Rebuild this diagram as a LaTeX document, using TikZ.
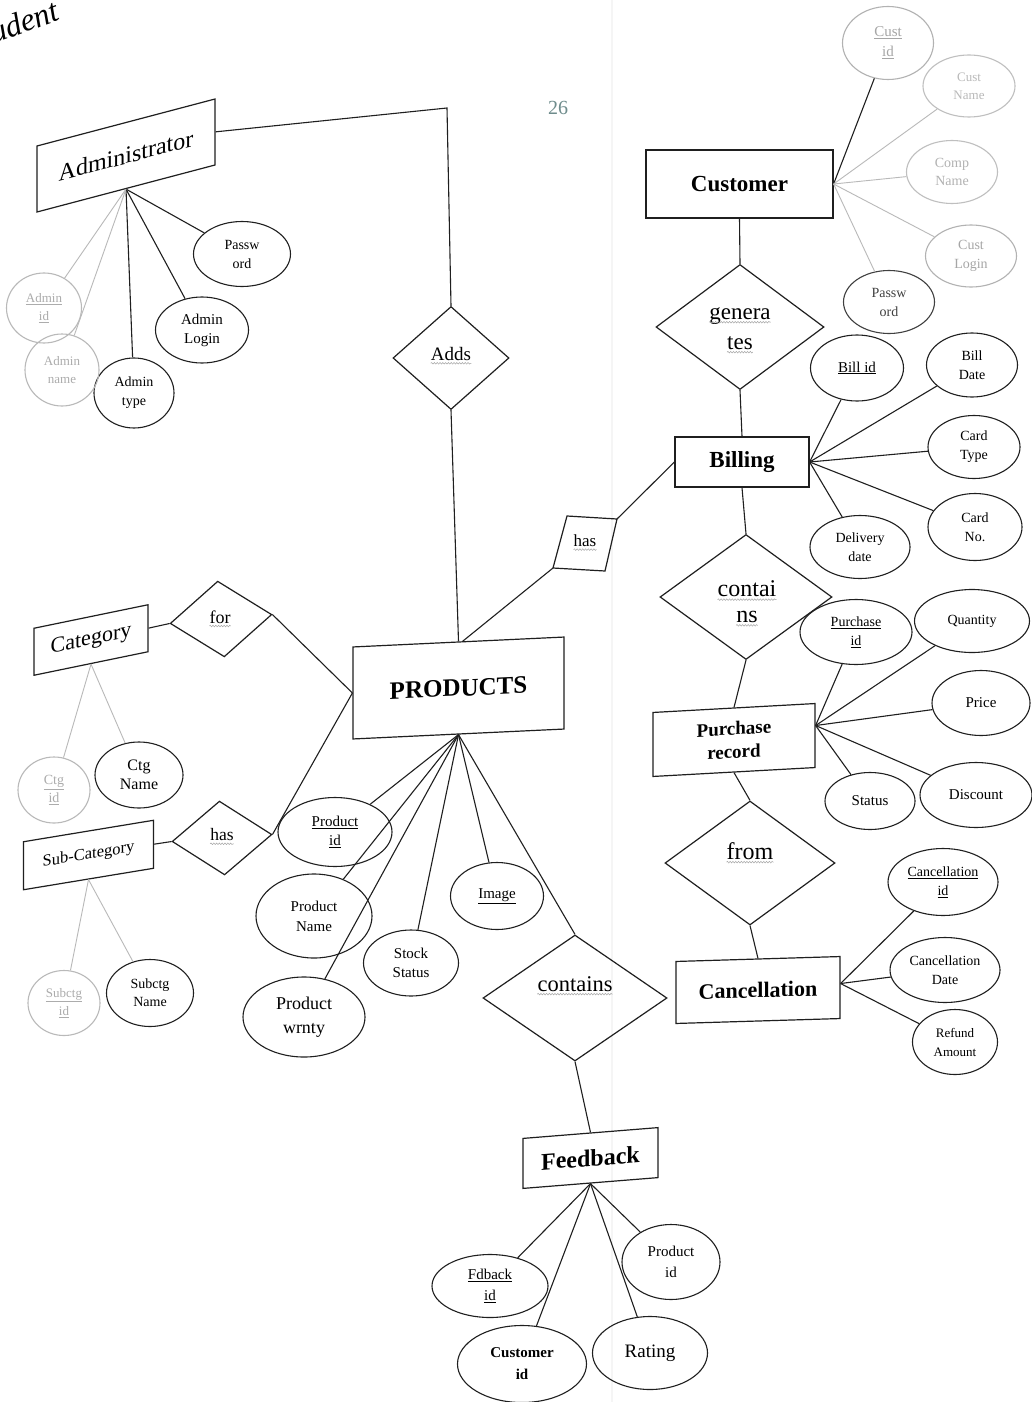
\documentclass[tikz,border=0pt]{standalone}
\usepackage{fontspec}
\setmainfont{Liberation Serif}
\usetikzlibrary{shapes.geometric,decorations.pathmorphing}
\definecolor{ink}{gray}{0.12}
\definecolor{pagenum}{RGB}{110,140,140}
\tikzset{
  fs/.style 2 args={font=\fontsize{#1}{#2}\selectfont},
  ent/.style={draw=ink, line width=1.2pt, rectangle, inner sep=0pt, align=center},
  rel/.style={draw=ink, line width=1.2pt, diamond, inner sep=0pt},
  attr/.style={draw=ink, line width=1.1pt, ellipse, inner sep=0pt, align=center},
  lbl/.style={inner sep=0pt},
  lnk/.style={draw=ink, line width=1.1pt},
  lnkfaint/.style={draw=gray!55, line width=0.9pt},
  faint/.style={draw=gray!55, text=gray!65},
  wave/.style={draw=gray!70, line width=0.5pt, decorate,
               decoration={snake, amplitude=0.8pt, segment length=2.8pt}},
  crease/.style={draw=gray!8, line width=2pt}
}
\newcommand\wv[1]{\draw[wave] ([yshift=-2.8pt]#1.base west) -- ([yshift=-2.8pt]#1.base east);}
\begin{document}
\begin{tikzpicture}[x=1pt,y=-1pt]
\fill[white] (0,0) rectangle (1032,1402);
\useasboundingbox (0,0) rectangle (1032,1402);
\draw[crease] (612,0) -- (612,1402);

% running header fragment and page number
\node[lbl, rotate=20, anchor=base west, font=\fontsize{32}{34}\selectfont\itshape] (hdr) at (-6,44) {udent};
\node[lbl, text=pagenum, fs={20}{22}] (pg) at (558,108) {26};

% ---------- entities ----------
\node[ent, minimum width=178, minimum height=66, yslant=0.264, fs={24}{28}] (admin) at (126,155.5) {Administrator};
\node[ent, minimum width=187, minimum height=68, font=\fontsize{23}{26}\selectfont\bfseries] (cust) at (739.5,184) {Customer};
\node[ent, minimum width=134, minimum height=50, font=\fontsize{23}{26}\selectfont\bfseries] (bill) at (742,462) {Billing};
\node[ent, minimum width=162, minimum height=64, yslant=0.055, font=\fontsize{19}{23}\selectfont\bfseries] (purch) at (734,740) {Purchase\\record};
\node[ent, minimum width=164, minimum height=62, yslant=0.03, font=\fontsize{22}{26}\selectfont\bfseries] (canc) at (758,990) {Cancellation};
\node[ent, minimum width=211, minimum height=92, yslant=0.047, font=\fontsize{25}{28}\selectfont\bfseries] (prod) at (458.5,688) {PRODUCTS};
\node[ent, minimum width=135, minimum height=50, yslant=0.08, font=\fontsize{24}{27}\selectfont\bfseries] (feed) at (590.5,1158) {Feedback};
\node[ent, minimum width=114, minimum height=47, yslant=0.206, fs={22}{25}] (cat) at (91,640) {Category};
\node[ent, minimum width=130, minimum height=48, yslant=0.165, fs={16.5}{19}] (subcat) at (88.5,855) {Sub-Category};

% ---------- relationships ----------
\node[rel, minimum width=116, minimum height=103] (adds) at (451,358) {};
\node[rel, minimum width=168, minimum height=125] (gen) at (740,327) {};
\node[rel, minimum width=172, minimum height=125] (cont) at (746,597) {};
\node[rel, minimum width=170, minimum height=124] (from) at (750,863) {};
\node[rel, minimum width=184, minimum height=126] (contL) at (575,998) {};
\node[rel, minimum width=102, minimum height=76, rotate=5] (forR) at (221,619) {};
\node[rel, minimum width=100, minimum height=74, rotate=4] (hasL) at (222,838) {};
% the small slanted "has" box between Billing and PRODUCTS
\coordinate (hasBtl) at (567,516);
\coordinate (hasBtr) at (617,519);
\coordinate (hasBbr) at (605,571);
\coordinate (hasBbl) at (553,568);
\draw[draw=ink, line width=1.2pt, line join=miter] (hasBtl) -- (hasBtr) -- (hasBbr) -- (hasBbl) -- cycle;

% relationship labels with their squiggly underlines
\node[lbl, fs={19}{22}] (addsT) at (451,354) {Adds}; \wv{addsT}
\node[lbl, fs={23}{26}] (genT1) at (740,316) {genera}; \wv{genT1}
\node[lbl, fs={23}{26}] (genT2) at (740,343) {tes}; \wv{genT2}
\node[lbl, fs={24}{27}] (contT1) at (747,589) {contai}; \wv{contT1}
\node[lbl, fs={24}{27}] (contT2) at (747,617) {ns}; \wv{contT2}
\node[lbl, fs={24}{27}] (fromT) at (750,851) {from}; \wv{fromT}
\node[lbl, fs={22.5}{25}] (contLT) at (575,984) {contains}; \wv{contLT}
\node[lbl, fs={18}{20}] (forT) at (220,617) {for}; \wv{forT}
\node[lbl, fs={17.5}{20}] (hasLT) at (222,835) {has}; \wv{hasLT}
\node[lbl, fs={17}{20}] (hasBT) at (585,541) {has}; \wv{hasBT}

% ---------- attributes ----------
% Administrator
\node[attr, minimum width=97, minimum height=65, fs={14}{19}] (aPass) at (242,254) {Passw\\ord};
\node[attr, minimum width=93, minimum height=66, fs={15}{19}] (aLogin) at (202,330) {Admin\\Login};
\node[attr, minimum width=80, minimum height=70, fs={14}{19}] (aType) at (134,393) {Admin\\type};
\node[attr, faint, minimum width=74, minimum height=72, fs={13}{18}] (aName) at (62,370) {Admin\\name};
\node[attr, faint, minimum width=75, minimum height=70, fs={13}{18}] (aId) at (44,308) {\underline{Admin}\\\underline{id}};
% Customer
\node[attr, draw=gray!60, text=gray!70, minimum width=91, minimum height=73, fs={15}{20}] (cId) at (888,43) {\underline{Cust}\\\underline{id}};
\node[attr, draw=gray!50, text=gray!55, minimum width=92, minimum height=62, fs={13}{18}] (cName) at (969,86) {Cust\\Name};
\node[attr, draw=gray!50, text=gray!60, minimum width=91, minimum height=63, fs={14}{18}] (cComp) at (952,172) {Comp\\Name};
\node[attr, draw=gray!60, text=gray!70, minimum width=91, minimum height=62, fs={14}{19}] (cLogin) at (971,256) {Cust\\Login};
\node[attr, draw=black!75, text=black!75, minimum width=91, minimum height=63, fs={14}{19}] (cPass) at (889,302) {Passw\\ord};
% Billing
\node[attr, minimum width=93, minimum height=66, fs={15}{19}] (bId) at (857,368) {\underline{Bill id}};
\node[attr, minimum width=91, minimum height=64, fs={14}{19}] (bDate) at (972,365) {Bill\\Date};
\node[attr, minimum width=92, minimum height=63, fs={14}{19}] (bType) at (974,447) {Card\\Type};
\node[attr, minimum width=94, minimum height=67, fs={14}{19}] (bNo) at (975,527) {Card\\No.};
\node[attr, minimum width=100, minimum height=63, fs={14}{19}] (bDel) at (860,547) {Delivery\\date};
% Purchase record
\node[attr, minimum width=112, minimum height=65, fs={14}{19}] (pId) at (856,632) {\underline{Purchase}\\\underline{id}};
\node[attr, minimum width=115, minimum height=63, fs={14}{19}] (pQty) at (972,621) {Quantity};
\node[attr, minimum width=98, minimum height=65, fs={15}{19}] (pPrice) at (981,703) {Price};
\node[attr, minimum width=112, minimum height=65, fs={15}{19}] (pDisc) at (976,795) {Discount};
\node[attr, minimum width=90, minimum height=57, fs={15}{19}] (pStat) at (870,801) {Status};
% Cancellation
\node[attr, minimum width=110, minimum height=67, fs={14}{19}] (xId) at (943,882) {\underline{Cancellation}\\\underline{id}};
\node[attr, minimum width=110, minimum height=65, fs={14}{19}] (xDate) at (945,970) {Cancellation\\Date};
\node[attr, minimum width=85, minimum height=65, fs={13}{19}] (xRef) at (955,1042) {Refund\\Amount};
% PRODUCTS
\node[attr, minimum width=114, minimum height=69, fs={15}{19}] (prId) at (335,832) {\underline{Product}\\\underline{id}};
\node[attr, minimum width=116, minimum height=84, fs={15}{20}] (prName) at (314,916) {Product\\Name};
\node[attr, minimum width=95, minimum height=66, fs={15}{19}] (prStock) at (411,963) {Stock\\Status};
\node[attr, minimum width=93, minimum height=67, fs={15}{19}] (prImg) at (497,896) {\underline{Image}};
\node[attr, minimum width=122, minimum height=80, fs={18}{24}] (prWr) at (304,1017) {Product\\wrnty};
% Category and Sub-Category
\node[attr, faint, minimum width=72, minimum height=66, fs={14}{18}] (ctgId) at (54,790) {\underline{Ctg}\\\underline{id}};
\node[attr, minimum width=88, minimum height=66, fs={16}{19}] (ctgName) at (139,775) {Ctg\\Name};
\node[attr, faint, minimum width=72, minimum height=65, fs={13}{18}] (sId) at (64,1003) {\underline{Subctg}\\\underline{id}};
\node[attr, minimum width=87, minimum height=67, fs={14}{18}] (sName) at (150,993) {Subctg\\Name};
% Feedback
\node[attr, minimum width=116, minimum height=63, fs={15}{21}] (fId) at (490,1286) {\underline{Fdback}\\\underline{id}};
\node[attr, minimum width=98, minimum height=75, fs={15}{21}] (fProd) at (671,1262) {Product\\id};
\node[attr, minimum width=129, minimum height=77, font=\fontsize{15}{22}\selectfont\bfseries] (fCust) at (522,1364) {Customer\\id};
\node[attr, minimum width=115, minimum height=73, fs={19}{22}] (fRate) at (650,1353) {Rating};

% ---------- connectors ----------
\coordinate (adk) at (447,108);
\draw[lnk] (admin.east) -- (adk) -- (adds.north);
\draw[lnk] (adds.south) -- (prod.north);
\draw[lnk] (bill.west) -- (hasBtr);
\draw[lnk] (hasBbl) -- ([xshift=4pt]prod.north);
\draw[lnk] (cust.south) -- (gen.north);
\draw[lnk] (gen.south) -- (bill.north);
\draw[lnk] (bill.south) -- (cont.north);
\draw[lnk] (cont.south) -- (purch.north);
\draw[lnk] (purch.south) -- (from.north);
\draw[lnk] (from.south) -- (canc.north);
\draw[lnk] (cat.east) -- (forR.west);
\draw[lnk] (forR.east) -- (prod.west);
\draw[lnk] (subcat.east) -- (hasL.west);
\draw[lnk] (hasL.east) -- (prod.west);
\draw[lnk] (prod.south) -- (contL.north);
\draw[lnk] (contL.south) -- (feed.north);

% attribute links
\draw[lnk] (admin.south) -- (aPass);
\draw[lnk] (admin.south) -- (aLogin);
\draw[lnk] (admin.south) -- (aType);
\draw[lnkfaint] (admin.south) -- (aName);
\draw[lnkfaint] (admin.south) -- (aId);

\draw[lnk] (cust.east) -- (cId);
\draw[lnkfaint] (cust.east) -- (cName);
\draw[lnkfaint] (cust.east) -- (cComp);
\draw[lnkfaint] (cust.east) -- (cLogin);
\draw[lnkfaint] (cust.east) -- (cPass);

\foreach \a in {bId,bDate,bType,bNo,bDel} \draw[lnk] (bill.east) -- (\a);
\foreach \a in {pId,pQty,pPrice,pDisc,pStat} \draw[lnk] ([yshift=10pt]purch.east) -- (\a);
\foreach \a in {xId,xDate,xRef} \draw[lnk] ([yshift=4pt]canc.east) -- (\a);
\foreach \a in {prId,prName,prStock,prImg,prWr} \draw[lnk] (prod.south) -- (\a);
\foreach \a in {fId,fProd,fCust,fRate} \draw[lnk] (feed.south) -- (\a);

\draw[lnkfaint] (cat.south) -- (ctgId);
\draw[lnkfaint] (cat.south) -- (ctgName);
\draw[lnkfaint] (subcat.south) -- (sId);
\draw[lnkfaint] (subcat.south) -- (sName);
\end{tikzpicture}
\end{document}
